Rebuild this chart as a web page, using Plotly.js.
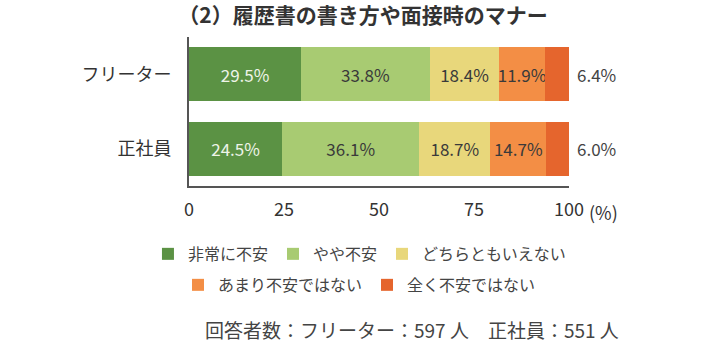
<!DOCTYPE html>
<html><head><meta charset="utf-8">
<script src="https://cdn.plot.ly/plotly-3.0.1.min.js"></script>
<style>html,body{margin:0;padding:0;background:#fff;}#chart{width:712px;height:346px;}</style>
</head><body><div id="chart"></div>
<script>
const groups = ['フリーター', '正社員'];
const seriesNames = ['非常に不安', 'やや不安', 'どちらともいえない', 'あまり不安ではない', '全く不安ではない'];
const veryAnxious = [29.5, 24.5];
const somewhatAnxious = [33.8, 36.1];
const neither = [18.4, 18.7];
const notVeryAnxious = [11.9, 14.7];
const notAtAllAnxious = [6.4, 6.0];
const xTickVals = [0, 25, 50, 75, 100];
const xTickText = ['0', '25', '50', '75', '100'];
const footnote = '回答者数：フリーター：597 人　正社員：551 人';
const titleText = '（2）履歴書の書き方や面接時のマナー';

const series = [veryAnxious, somewhatAnxious, neither, notVeryAnxious, notAtAllAnxious];
const colors = ['#5b9244', '#a8cb72', '#e8d77b', '#f38e45', '#e5652d'];
const textColors = ['#eef4e8', '#3a3a3a', '#3a3a3a', '#3a3a3a', '#3a3a3a'];
const FONT = '"Noto Sans CJK JP", "Noto Sans", sans-serif';

const traces = series.map((vals, i) => ({
  type: 'bar', orientation: 'h', name: seriesNames[i],
  y: groups, x: vals,
  marker: {color: colors[i]},
  text: i < 4 ? vals.map(v => v.toFixed(1) + '%') : undefined,
  textposition: i < 4 ? 'inside' : 'none',
  insidetextanchor: 'middle',
  textangle: 0,
  constraintext: 'none',
  textfont: {family: FONT, size: 17, color: textColors[i]},
  hoverinfo: 'skip',
  legend: i < 3 ? 'legend' : 'legend2'
}));

const annotations = groups.map((g, j) => ({
  xref: 'x', yref: 'y', x: series.reduce((s, arr) => s + arr[j], 0), y: g,
  text: notAtAllAnxious[j].toFixed(1) + '%', showarrow: false,
  xanchor: 'left', xshift: 6, font: {family: FONT, size: 17, color: '#444'}
}));
annotations.push({
  xref: 'x', yref: 'paper', x: 100, y: 0, yanchor: 'top', yshift: -11,
  xanchor: 'left', xshift: 18, text: '(%)', showarrow: false,
  font: {family: FONT, size: 18, color: '#333'}
});
annotations.push({
  xref: 'paper', yref: 'paper', x: 0.586, y: -0.966, xanchor: 'center', yanchor: 'middle',
  text: footnote, showarrow: false, font: {family: FONT, size: 19, color: '#444'}
});

const layout = {
  width: 712, height: 346,
  margin: {l: 189, r: 143, t: 37, b: 160},
  paper_bgcolor: '#fff', plot_bgcolor: '#fff',
  barmode: 'stack', bargap: 0.275,
  font: {family: FONT, color: '#333'},
  title: {text: titleText, x: 0.458, xref: 'paper', xanchor: 'center', y: 0.955, yanchor: 'middle',
          font: {family: FONT, size: 21, color: '#333', weight: 'bold'}},
  xaxis: {range: [0, 100], tickvals: xTickVals, ticktext: xTickText, showgrid: false, zeroline: false,
          showline: true, linecolor: '#555', linewidth: 2, ticks: 'outside', ticklen: 6, tickcolor: 'rgba(0,0,0,0)',
          tickfont: {family: FONT, size: 18, color: '#333'}, fixedrange: true},
  yaxis: {categoryorder: 'array', categoryarray: groups, autorange: 'reversed', showgrid: false, zeroline: false,
          showline: true, linecolor: '#555', linewidth: 2, ticks: 'outside', ticklen: 12, tickcolor: 'rgba(0,0,0,0)',
          tickfont: {family: FONT, size: 18, color: '#333'}, fixedrange: true},
  showlegend: true,
  legend: {orientation: 'h', x: -0.108, xanchor: 'left', y: -0.456, yanchor: 'middle',
           font: {family: FONT, size: 16, color: '#444'}, traceorder: 'normal'},
  legend2: {orientation: 'h', x: -0.029, xanchor: 'left', y: -0.664, yanchor: 'middle',
           font: {family: FONT, size: 16, color: '#444'}, traceorder: 'normal'},
  annotations: annotations
};

Plotly.newPlot('chart', traces, layout, {displayModeBar: false, staticPlot: true});
</script></body></html>
